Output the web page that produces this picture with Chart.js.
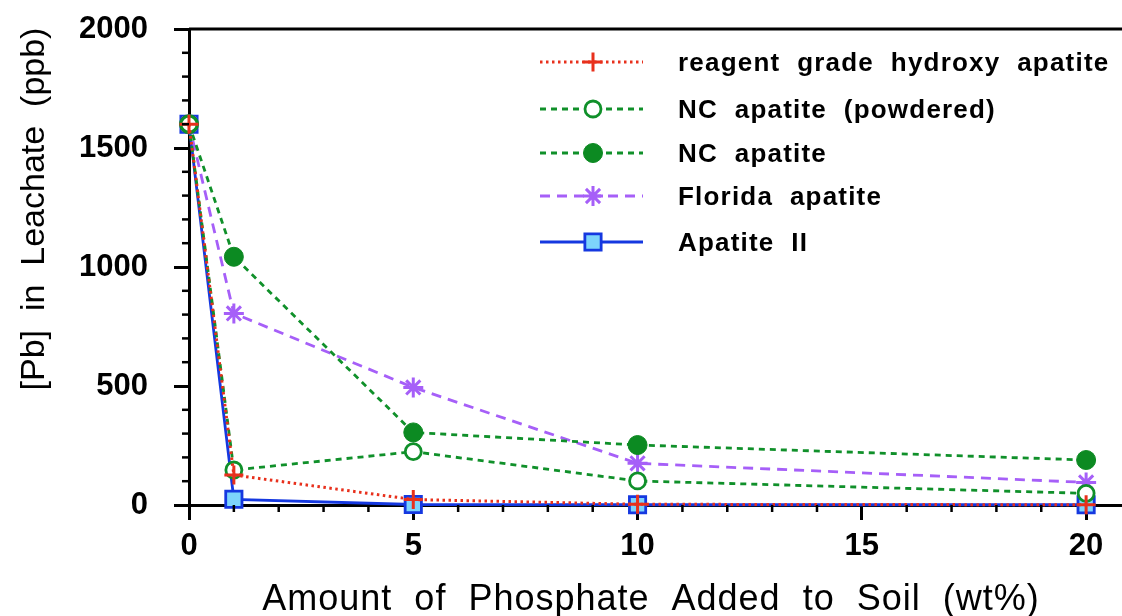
<!DOCTYPE html>
<html>
<head>
<meta charset="utf-8">
<script src="https://cdn.jsdelivr.net/npm/chart.js@4.4.1/dist/chart.umd.min.js"></script>
<style>
  html, body { margin: 0; padding: 0; background: #fff; overflow: hidden; }
  #wrap { width: 1122px; height: 616px; position: relative; }
  #wrap canvas { display: block; }
</style>
</head>
<body>
<div id="wrap"><canvas id="chart"></canvas></div>
<script>
const phosphate = [0, 1, 5, 10, 20];
const reagentGrade = [1600, 126, 23, 3, 1];
const ncPowdered = [1600, 147, 224, 101, 49];
const ncApatite = [1600, 1043, 305, 252, 189];
const florida = [1600, 805, 494, 175, 95];
const apatiteII = [1600, 24, 2, 1, 1];

const seriesNames = [
  "reagent  grade  hydroxy  apatite",
  "NC  apatite  (powdered)",
  "NC  apatite",
  "Florida  apatite",
  "Apatite  II"
];
const xTitle = "Amount  of  Phosphate  Added  to  Soil  (wt%)";
const yTitle = "[Pb]  in  Leachate  (ppb)";

const FONT = "'Liberation Sans', Arial, sans-serif";

function pts(vals) {
  return vals.map((v, i) => ({ x: phosphate[i], y: v }));
}

const datasets = [
  { label: seriesNames[0], data: pts(reagentGrade), borderColor: "#e8301c", borderWidth: 3,
    borderDash: [2.5, 3.5], pointStyle: "cross", pointRadius: 9.5, pointBorderWidth: 3,
    pointBorderColor: "#e8301c", pointBackgroundColor: "#e8301c" },
  { label: seriesNames[1], data: pts(ncPowdered), borderColor: "#10902a", borderWidth: 2.8,
    borderDash: [6, 5], pointStyle: "circle", pointRadius: 8, pointBorderWidth: 2.8,
    pointBorderColor: "#10902a", pointBackgroundColor: "#ffffff" },
  { label: seriesNames[2], data: pts(ncApatite), borderColor: "#10902a", borderWidth: 2.8,
    borderDash: [6, 5], pointStyle: "circle", pointRadius: 9.5, pointBorderWidth: 1,
    pointBorderColor: "#0c8a22", pointBackgroundColor: "#0c8a22" },
  { label: seriesNames[3], data: pts(florida), borderColor: "#a65ff8", borderWidth: 2.8,
    borderDash: [10, 7], pointStyle: "star", pointRadius: 10, pointBorderWidth: 3,
    pointBorderColor: "#a65ff8", pointBackgroundColor: "#a65ff8" },
  { label: seriesNames[4], data: pts(apatiteII), borderColor: "#1538e0", borderWidth: 2.8,
    borderDash: [], pointStyle: "rect", pointRadius: 11.5, pointBorderWidth: 2.8,
    pointBorderColor: "#1538e0", pointBackgroundColor: "#7dd4fb" }
];
datasets.forEach(d => { d.tension = 0; d.fill = false; d.showLine = true; d.clip = false; });

const extras = {
  id: "extras",
  afterDraw(chart) {
    const ctx = chart.ctx;
    const a = chart.chartArea;
    const xs = chart.scales.x, ys = chart.scales.y;
    ctx.save();
    ctx.strokeStyle = "#000";
    // top frame line
    ctx.lineWidth = 3;
    ctx.beginPath();
    ctx.moveTo(a.left, a.top);
    ctx.lineTo(a.right, a.top);
    ctx.stroke();
    // minor ticks
    ctx.lineWidth = 2.5;
    for (let v = 100; v < 2000; v += 100) {
      if (v % 500 === 0) continue;
      const y = ys.getPixelForValue(v);
      ctx.beginPath(); ctx.moveTo(a.left - 7, y); ctx.lineTo(a.left, y); ctx.stroke();
    }
    for (let v = 1; v <= 20; v++) {
      if (v % 5 === 0) continue;
      const x = xs.getPixelForValue(v);
      ctx.beginPath(); ctx.moveTo(x, a.bottom); ctx.lineTo(x, a.bottom + 7); ctx.stroke();
    }
    // axis titles
    ctx.fillStyle = "#000";
    ctx.textAlign = "center";
    ctx.textBaseline = "alphabetic";
    ctx.font = "36px " + FONT;
    ctx.letterSpacing = "1px";
    ctx.fillText(xTitle, 651, 610);
    ctx.letterSpacing = "0px";
    ctx.font = "34px " + FONT;
    ctx.save();
    ctx.translate(44, 209);
    ctx.rotate(-Math.PI / 2);
    ctx.fillText(yTitle, 0, 0);
    ctx.restore();
    // legend
    const rowY = [62, 109, 153, 196, 242];
    chart.data.datasets.forEach((d, i) => {
      const y = rowY[i];
      ctx.save();
      ctx.strokeStyle = d.borderColor;
      ctx.lineWidth = d.borderWidth;
      ctx.setLineDash(d.borderDash);
      ctx.beginPath(); ctx.moveTo(540, y); ctx.lineTo(643, y); ctx.stroke();
      ctx.setLineDash([]);
      ctx.strokeStyle = d.pointBorderColor;
      ctx.fillStyle = d.pointBackgroundColor;
      ctx.lineWidth = d.pointBorderWidth;
      Chart.helpers.drawPoint(ctx, { pointStyle: d.pointStyle, radius: d.pointRadius,
        rotation: 0, borderWidth: d.pointBorderWidth }, 593, y);
      ctx.restore();
      ctx.fillStyle = "#000";
      ctx.font = "bold 26px " + FONT;
      ctx.letterSpacing = "1.2px";
      ctx.textAlign = "left";
      ctx.textBaseline = "middle";
      ctx.fillText(d.label, 678, y + 2);
      ctx.letterSpacing = "0px";
    });
    ctx.restore();
  }
};

new Chart(document.getElementById("chart"), {
  type: "line",
  data: { datasets },
  plugins: [extras],
  options: {
    responsive: true,
    maintainAspectRatio: false,
    animation: false,
    layout: { autoPadding: false, padding: { top: 29, left: 0, right: 0, bottom: 0 } },
    plugins: { legend: { display: false }, tooltip: { enabled: false } },
    scales: {
      x: {
        type: "linear", min: 0, max: 20.8,
        afterFit: s => { s.height = 111; s.paddingLeft = 0; s.paddingRight = 0; },
        ticks: { stepSize: 5, includeBounds: false, padding: 8, color: "#000",
                 callback: v => String(v),
                 font: { family: FONT, size: 31, weight: "bold" } },
        grid: { drawOnChartArea: false, drawTicks: true, tickLength: 15, color: "#000", lineWidth: 3 },
        border: { display: true, color: "#000", width: 3 }
      },
      y: {
        type: "linear", min: 0, max: 2000,
        afterFit: s => { s.width = 189; s.paddingTop = 0; s.paddingBottom = 0; },
        ticks: { stepSize: 500, includeBounds: false, padding: 26, color: "#000",
                 callback: v => String(v),
                 font: { family: FONT, size: 31, weight: "bold" } },
        grid: { drawOnChartArea: false, drawTicks: true, tickLength: 15, color: "#000", lineWidth: 3 },
        border: { display: true, color: "#000", width: 3 }
      }
    }
  }
});
</script>
</body>
</html>
